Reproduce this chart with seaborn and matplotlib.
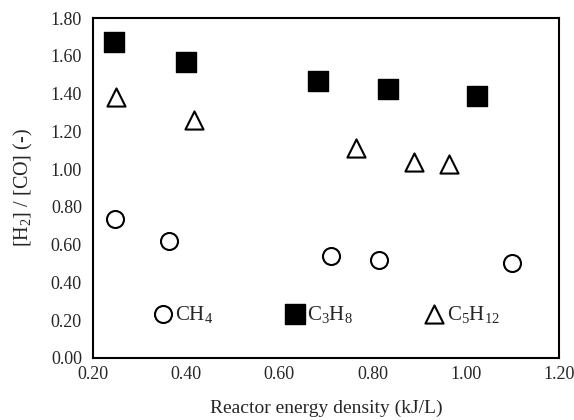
import numpy as np
import pandas as pd
import matplotlib
matplotlib.use("Agg")
import matplotlib.pyplot as plt
import seaborn as sns

# Data
ch4_x = [0.247, 0.363, 0.711, 0.814, 1.099]
ch4_y = [0.736, 0.619, 0.540, 0.519, 0.503]
c3h8_x = [0.245, 0.400, 0.683, 0.833, 1.024]
c3h8_y = [1.673, 1.567, 1.466, 1.424, 1.387]
c5h12_x = [0.250, 0.417, 0.764, 0.889, 0.964]
c5h12_y = [1.380, 1.260, 1.110, 1.040, 1.027]
labels = ["CH$_4$", "C$_3$H$_8$", "C$_5$H$_{12}$"]
x_ticks = [0.2, 0.4, 0.6, 0.8, 1.0, 1.2]
y_ticks = [0.0, 0.2, 0.4, 0.6, 0.8, 1.0, 1.2, 1.4, 1.6, 1.8]

sns.set_style("white")
plt.rcParams["font.family"] = ["Liberation Serif", "DejaVu Serif"]
plt.rcParams["mathtext.fontset"] = "custom"
plt.rcParams["mathtext.rm"] = "Liberation Serif"
plt.rcParams["mathtext.it"] = "Liberation Serif"
plt.rcParams["mathtext.default"] = "regular"

fig = plt.figure(figsize=(5.74, 4.2), dpi=100)
ax = fig.add_axes([0.162, 0.148, 0.812, 0.809])

df_ch4 = pd.DataFrame({"x": ch4_x, "y": ch4_y})
df_c3 = pd.DataFrame({"x": c3h8_x, "y": c3h8_y})
df_c5 = pd.DataFrame({"x": c5h12_x, "y": c5h12_y})

sns.scatterplot(data=df_ch4, x="x", y="y", ax=ax, marker="o", s=150,
                facecolor="white", edgecolor="black", linewidth=1.5, label=labels[0])
sns.scatterplot(data=df_c3, x="x", y="y", ax=ax, marker="s", s=196,
                facecolor="black", edgecolor="black", linewidth=1.0, label=labels[1])
sns.scatterplot(data=df_c5, x="x", y="y", ax=ax, marker="^", s=170,
                facecolor="white", edgecolor="black", linewidth=1.5, label=labels[2])

ax.set_xlim(0.2, 1.2)
ax.set_ylim(0.0, 1.8)
ax.set_xticks(x_ticks)
ax.set_yticks(y_ticks)
ax.set_xticklabels([f"{v:.2f}" for v in x_ticks], fontsize=13)
ax.set_yticklabels([f"{v:.2f}" for v in y_ticks], fontsize=13)
ax.tick_params(axis="x", direction="in", length=5, width=1.2, pad=6, color="black")
ax.tick_params(axis="y", direction="out", length=5, width=1.2, pad=3, color="black")
for sp in ax.spines.values():
    sp.set_visible(True)
    sp.set_color("black")
    sp.set_linewidth(1.5)

ax.set_xlabel("Reactor energy density (kJ/L)", fontsize=14, labelpad=12)
ax.set_ylabel("[H$_2$] / [CO] (-)", fontsize=14.5, labelpad=11)

leg = ax.legend(ncol=3, frameon=False, loc="center left",
                bbox_to_anchor=(0.116, 0.128), fontsize=15,
                handlelength=0.7, handletextpad=0.25, columnspacing=3.55,
                borderaxespad=0)

fig.savefig("out.png", dpi=100)
